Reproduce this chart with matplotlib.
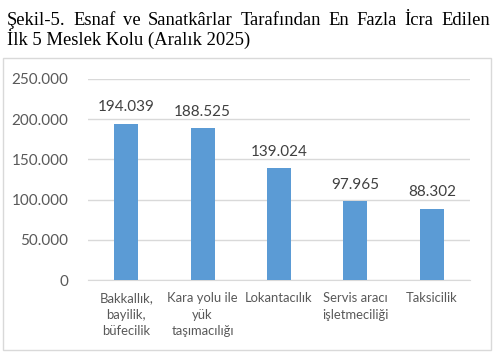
import matplotlib.pyplot as plt
from matplotlib.patches import Rectangle
from matplotlib.ticker import FuncFormatter

# data
categories = ['Bakkallık,\nbayilik,\nbüfecilik', 'Kara yolu ile\nyük\ntaşımacılığı',
              'Lokantacılık', 'Servis aracı\nişletmeciliği', 'Taksicilik']
values = [194039, 188525, 139024, 97965, 88302]
y_ticks = [0, 50000, 100000, 150000, 200000, 250000]
title_line1 = 'Şekil-5. Esnaf ve Sanatkârlar Tarafından En Fazla İcra Edilen'
title_line2 = 'İlk 5 Meslek Kolu (Aralık 2025)'

W, H = 496, 356


def fmt(v, pos=None):
    # Turkish thousand separator
    return f'{int(v):,}'.replace(',', '.')


fig = plt.figure(figsize=(W / 100, H / 100), dpi=100)
fig.patch.set_facecolor('white')

# chart frame
fig.patches.append(Rectangle((3 / W, (H - 350) / H), 488 / W, 292 / H,
                             transform=fig.transFigure, fill=False,
                             edgecolor='#D9D9D9', linewidth=1.0))

# title: first line justified between the margins, like in the document
tkw = dict(family='Liberation Serif', fontsize=13.4, color='black', va='baseline', ha='left')
renderer = fig.canvas.get_renderer()
words = title_line1.split(' ')
widths = []
for w in words:
    t = fig.text(0, 0, w, **tkw)
    widths.append(t.get_window_extent(renderer).width)
    t.remove()
left, right = 7, 490
gap = (right - left - sum(widths)) / (len(words) - 1)
xpos = left
for w, wd in zip(words, widths):
    fig.text(xpos / W, (H - 25) / H, w, **tkw)
    xpos += wd + gap
fig.text(left / W, (H - 45) / H, title_line2, **tkw)

ax = fig.add_axes([88 / W, (H - 280) / H, 382 / W, 201 / H])
x = range(len(categories))
bars = ax.bar(x, values, width=0.315, color='#5B9BD5', zorder=3)
ax.set_xlim(-0.5, len(categories) - 0.5)
ax.set_ylim(0, 250000)
ax.set_yticks(y_ticks)
ax.yaxis.set_major_formatter(FuncFormatter(fmt))
ax.grid(axis='y', color='#D9D9D9', linewidth=1.0, zorder=0)
for s in ['top', 'right', 'left']:
    ax.spines[s].set_visible(False)
ax.spines['bottom'].set_color('#D9D9D9')
ax.tick_params(axis='both', length=0, colors='#595959')
ax.tick_params(axis='y', labelsize=11, pad=14)
for lab in ax.get_yticklabels():
    lab.set_family('Lato')

ax.set_xticks(list(x))
ax.set_xticklabels(categories, family='Lato', fontsize=9.4, color='#595959',
                   linespacing=1.42)
ax.tick_params(axis='x', pad=9)

for b, v in zip(bars, values):
    ax.annotate(fmt(v), (b.get_x() + b.get_width() / 2, v), xytext=(0, 7),
                textcoords='offset points', ha='center', va='bottom',
                family='Lato', fontsize=11, color='#404040')

fig.savefig('out.png', dpi=100)
